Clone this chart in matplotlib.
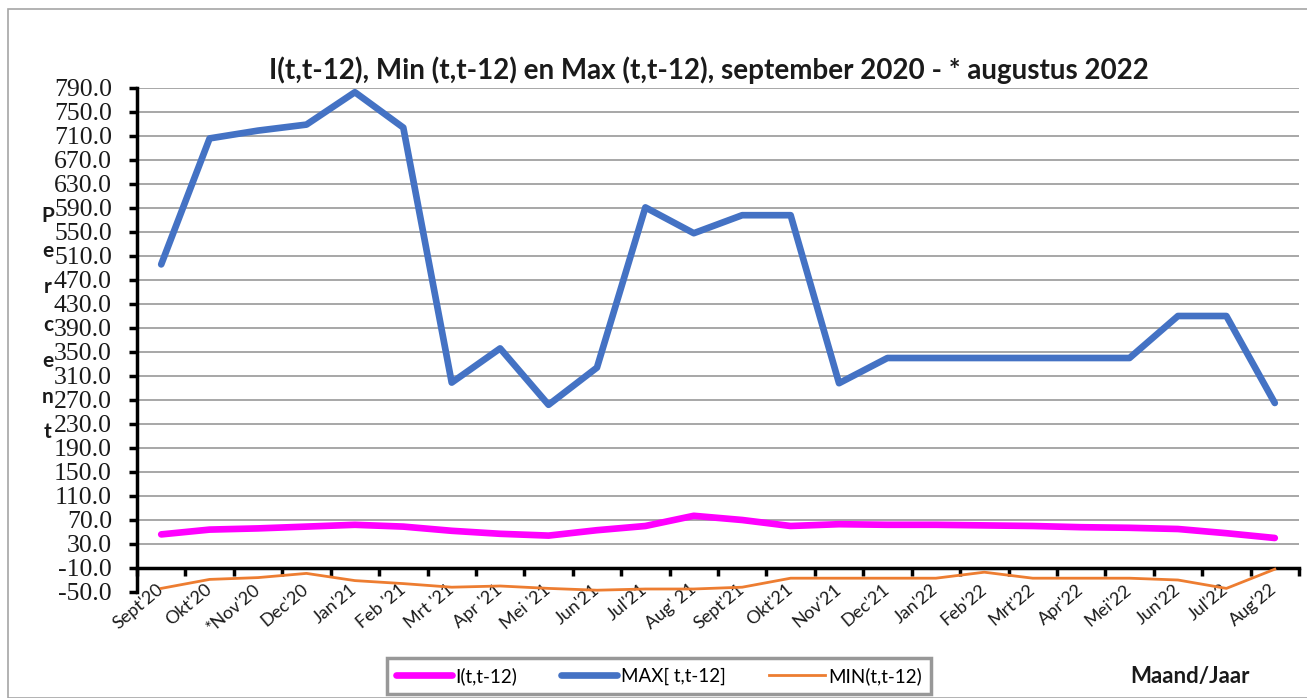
import matplotlib
matplotlib.use("Agg")
import matplotlib.pyplot as plt
from matplotlib.patches import Rectangle
from matplotlib.ticker import FixedLocator, FormatStrFormatter

categories = ["Sept'20", "Okt'20", "*Nov'20", "Dec'20", "Jan'21", "Feb '21", "Mrt '21",
              "Apr '21", "Mei '21", "Jun'21", "Jul'21", "Aug' 21", "Sept'21", "Okt'21",
              "Nov'21", "Dec'21", "Jan'22", "Feb'22", "Mrt'22", "Apr'22", "Mei'22",
              "Jun'22", "Jul'22", "Aug'22"]
i_vals = [46, 54, 56, 59, 62, 59, 52, 47, 44, 53, 60, 77, 70, 60, 63, 62, 62, 61, 60, 58,
          57, 55, 48, 40]
max_vals = [496, 706, 719, 729, 783, 724, 299, 356, 262, 324, 591, 548, 578, 578, 298,
            340, 340, 340, 340, 340, 340, 410, 410, 265]
min_vals = [-44, -29, -26, -19, -31, -36, -42, -40, -44, -47, -45, -45, -42, -27, -27, -27,
            -27, -17, -27, -27, -27, -30, -44, -12]
y_ticks = list(range(-50, 791, 40))
title = "I(t,t-12), Min (t,t-12) en Max (t,t-12), september 2020 - * augustus 2022"
legend_labels = ["I(t,t-12)", "MAX[ t,t-12]", "MIN(t,t-12)"]
ylabel_letters = ["P", "e", "r", "c", "e", "n", "t"]

W, H = 1307, 698
fig = plt.figure(figsize=(W / 100, H / 100), dpi=100)
fig.patch.set_facecolor("white")

# outer border
fig.add_artist(Rectangle((8 / W, 0.5 / H), (W - 8 + 10) / W, (H - 9 - 0.5) / H,
                         transform=fig.transFigure, fill=False, edgecolor="#a6a6a6",
                         linewidth=1.2, clip_on=False))

ax_l, ax_r, ax_t, ax_b = 137, 1299, 88, 592
ax = fig.add_axes([ax_l / W, 1 - ax_b / H, (ax_r - ax_l) / W, (ax_b - ax_t) / H])

x = list(range(len(categories)))
ax.plot(x, i_vals, color="#ff00ff", lw=4.8, solid_capstyle="round", zorder=4)
ax.plot(x, max_vals, color="#4472c4", lw=4.8, solid_capstyle="round", zorder=4)
ax.plot(x, min_vals, color="#ed7d31", lw=2.0, zorder=4)

ax.set_xlim(-0.5, len(categories) - 0.5)
ax.set_ylim(-50, 790)

for s in ["top", "right"]:
    ax.spines[s].set_visible(False)
ax.spines["left"].set_linewidth(2.5)
ax.spines["bottom"].set_linewidth(2.5)
ax.spines["bottom"].set_position(("data", -10))

ax.yaxis.set_major_locator(FixedLocator(y_ticks))
ax.yaxis.set_major_formatter(FormatStrFormatter("%.1f"))
ax.tick_params(axis="y", direction="out", length=6, width=2.5, pad=12,
               labelsize=18.5, labelcolor="#1a1a1a")
for lab in ax.get_yticklabels():
    lab.set_fontfamily("Liberation Serif")

ax.grid(axis="y", color="#a0a0a0", lw=1.3, zorder=1)
ax.get_ygridlines()[0].set_visible(False)

ax.set_xticks(x)
ax.set_xticks([i - 0.5 for i in range(len(categories) + 1)], minor=True)
ax.set_xticklabels(categories, rotation=40, ha="right", va="center",
                   rotation_mode="anchor", fontsize=13, family="Lato", color="#1a1a1a")
ax.tick_params(axis="x", which="major", length=0, pad=14)
ax.tick_params(axis="x", which="minor", direction="out", length=6, width=2.5)

fig.text(709 / W, 1 - 70 / H, title, ha="center", va="center", fontsize=20,
         family="Lato", fontweight="bold", color="#1a1a1a")

letter_y = [216, 251, 287, 325, 361, 397, 432]
for ch, yy in zip(ylabel_letters, letter_y):
    fig.text(48 / W, 1 - yy / H, ch, ha="center", va="center", fontsize=15,
             family="Lato", fontweight="bold", color="#1a1a1a")

handles = ax.get_lines()
leg = fig.legend(handles, legend_labels, loc="center", ncol=3,
                 bbox_to_anchor=(659 / W, 1 - 676 / H), frameon=True, fancybox=False,
                 prop={"family": "Lato", "size": 13.5}, handlelength=3.0,
                 columnspacing=2.3, handletextpad=0.2, borderpad=0.45)
leg.get_frame().set_edgecolor("#7f7f7f")
leg.get_frame().set_linewidth(2.5)

fig.text(1190 / W, 1 - 677 / H, "Maand/Jaar", ha="center", va="center", fontsize=16,
         family="Lato", fontweight="bold", color="#1a1a1a")

fig.savefig("out.png", dpi=100)
